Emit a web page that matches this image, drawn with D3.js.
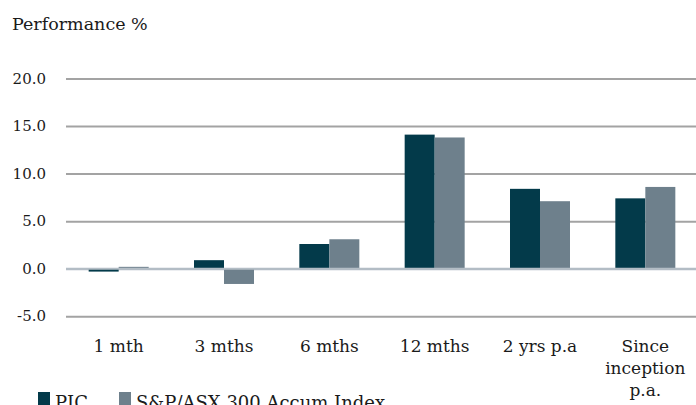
<!DOCTYPE html>
<html>
<head>
<meta charset="utf-8">
<script src="https://cdn.jsdelivr.net/npm/d3@7"></script>
<style>
  body { margin: 0; background: #fff; }
  svg { display: block; }
  text { font-family: "DejaVu Serif", "Liberation Serif", serif; fill: #1a1a1a; }
</style>
</head>
<body>
<svg width="696" height="405"></svg>
<script>
// data
var categories = ['1 mth', '3 mths', '6 mths', '12 mths', '2 yrs p.a', 'Since inception p.a.'];
var picValues = [-0.3, 0.9, 2.6, 14.1, 8.4, 7.4];
var indexValues = [0.2, -1.6, 3.1, 13.8, 7.1, 8.6];
var seriesNames = ['PIC', 'S&P/ASX 300 Accum Index'];
var yTicks = [-5, 0, 5, 10, 15, 20];

var svg = d3.select('svg');
var colors = ['#033a4a', '#6e808c'];

var plot = {l: 66, r: 698, t: 78.5, b: 316.3};

var xScale = d3.scaleBand()
    .domain(categories)
    .range([plot.l, plot.r]);

var yScale = d3.scaleLinear()
    .domain([-5, 20])
    .range([plot.b, plot.t]);

var step = xScale.bandwidth();
var subScale = d3.scaleBand()
    .domain([0, 1])
    .range([step / 2 - 30, step / 2 + 30]);

// title
svg.append('text')
    .attr('x', 12)
    .attr('y', 30)
    .style('font-size', '17.5px')
    .text('Performance %');

// grid lines
var yGrid = d3.axisLeft(yScale)
    .tickValues(yTicks)
    .tickSize(-(696 - plot.l))
    .tickFormat('');

var grid = svg.append('g')
    .attr('class', 'y grid')
    .attr('transform', 'translate(' + plot.l + ',0)')
    .call(yGrid);
grid.select('.domain').remove();
grid.selectAll('line')
    .style('stroke', function(d) { return d === 0 ? '#b3bdc5' : '#a3a3a3'; })
    .style('stroke-width', 2);

// y tick labels (plain hyphen for negatives, as in the original)
svg.selectAll('.ylabel')
    .data(yTicks)
    .enter()
    .append('text')
    .attr('class', 'ylabel')
    .attr('x', 46)
    .attr('y', function(d) { return yScale(d) + 5; })
    .attr('text-anchor', 'end')
    .style('font-size', '15px')
    .text(function(d) { return d.toFixed(1); });

// bars
var rows = categories.map(function(c, i) {
    return {cat: c, vals: [picValues[i], indexValues[i]]};
});

var groups = svg.selectAll('.group')
    .data(rows)
    .enter()
    .append('g')
    .attr('class', 'group')
    .attr('transform', function(d) { return 'translate(' + xScale(d.cat) + ',0)'; });

groups.selectAll('rect')
    .data(function(d) { return d.vals; })
    .enter()
    .append('rect')
    .attr('x', function(d, i) { return subScale(i); })
    .attr('width', subScale.bandwidth())
    .attr('y', function(d) { return yScale(Math.max(0, d)); })
    .attr('height', function(d) { return Math.abs(yScale(d) - yScale(0)); })
    .style('fill', function(d, i) { return colors[i]; });

// zero line on top
svg.append('line')
    .attr('x1', plot.l).attr('x2', 696)
    .attr('y1', yScale(0)).attr('y2', yScale(0))
    .style('stroke', '#b3bdc5')
    .style('stroke-width', 2);

// category labels, last one wraps
var catLabels = svg.selectAll('.xlabel')
    .data(categories)
    .enter()
    .append('text')
    .attr('class', 'xlabel')
    .attr('text-anchor', 'middle')
    .style('font-size', '17px')
    .attr('transform', function(d) { return 'translate(' + (xScale(d) + step / 2) + ',352)'; });

catLabels.each(function(d) {
    var lines = d === 'Since inception p.a.' ? ['Since', 'inception', 'p.a.'] : [d];
    d3.select(this).selectAll('tspan')
        .data(lines)
        .enter()
        .append('tspan')
        .attr('x', 0)
        .attr('dy', function(l, i) { return i === 0 ? 0 : 22; })
        .text(function(l) { return l; });
});

// legend (sits at the bottom edge, partly cut off like the original)
var legendX = [38, 119];
var legend = svg.selectAll('.legend')
    .data(seriesNames)
    .enter()
    .append('g')
    .attr('class', 'legend')
    .attr('transform', function(d, i) { return 'translate(' + legendX[i] + ',392)'; });

legend.append('rect')
    .attr('width', 12)
    .attr('height', 13)
    .style('fill', function(d, i) { return colors[i]; });

legend.append('text')
    .attr('x', 17)
    .attr('y', 17)
    .style('font-size', '18px')
    .text(function(d) { return d; });
</script>
</body>
</html>
